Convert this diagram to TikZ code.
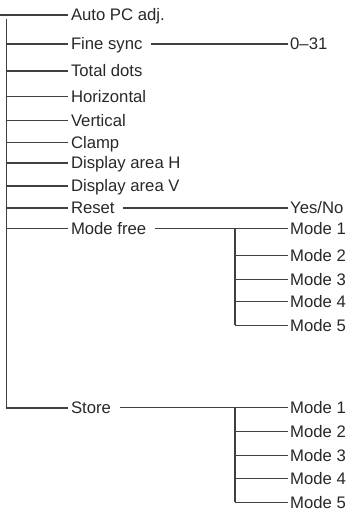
\documentclass[tikz,border=0pt]{standalone}
\usepackage{fontspec}
\setmainfont{Liberation Sans}
\definecolor{textcol}{RGB}{40,40,40}
\definecolor{linecol}{RGB}{64,64,64}
\begin{document}
\begin{tikzpicture}[x=1pt,y=-1pt,
  lbl/.style={anchor=west, inner xsep=2.5pt, inner ysep=0pt, text height=11.9pt, text depth=0pt,
              font=\fontsize{16.7}{18}\selectfont, text=textcol},
  br/.style={draw=linecol, line width=1.1pt},
  trunk/.style={draw=linecol, line width=1.6pt}]
\useasboundingbox (0,0) rectangle (351,511);
% main labels
\node[lbl] (auto)  at (68.3,15)    {Auto PC adj.};
\node[lbl] (fine)  at (68.3,44)    {Fine sync};
\node[lbl] (total) at (68.3,71)    {Total dots};
\node[lbl] (horiz) at (68.3,96.3)  {Horizontal};
\node[lbl] (vert)  at (68.3,120.7) {Vertical};
\node[lbl] (clamp) at (68.3,142.7) {Clamp};
\node[lbl] (dah)   at (68.3,163)   {Display area H};
\node[lbl] (dav)   at (68.3,186)   {Display area V};
\node[lbl] (reset) at (68.3,208)   {Reset};
\node[lbl] (mfree) at (68.3,228.8) {Mode free};
\node[lbl] (store) at (68.3,407.7) {Store};
% right labels
\node[lbl] (r031)  at (287.5,44)    {0\textendash31};
\node[lbl] (yesno) at (287.5,208)   {Yes/No};
\node[lbl] (m1) at (287.5,228.8) {Mode 1};
\node[lbl] (m2) at (287.5,255.3) {Mode 2};
\node[lbl] (m3) at (287.5,279.5) {Mode 3};
\node[lbl] (m4) at (287.5,301.7) {Mode 4};
\node[lbl] (m5) at (287.5,325.3) {Mode 5};
\node[lbl] (s1) at (287.5,407.7) {Mode 1};
\node[lbl] (s2) at (287.5,431.5) {Mode 2};
\node[lbl] (s3) at (287.5,455.2) {Mode 3};
\node[lbl] (s4) at (287.5,478.6) {Mode 4};
\node[lbl] (s5) at (287.5,502.4) {Mode 5};
% coordinates
\coordinate (topend) at (0,15);
\coordinate (trunktop) at (6.5,19);
\coordinate (mfx) at (235,0);
% main trunk
\draw[br] (topend) -- (auto.west);
\draw[trunk] (trunktop) |- (store.west);
\foreach \n in {fine,total,horiz,vert,clamp,dah,dav,reset,mfree}
  \draw[br] (trunktop |- \n.west) -- (\n.west);
% second level
\draw[br] ([xshift=6pt]fine.east) -- (r031.west);
\draw[br] ([xshift=6pt]reset.east) -- (yesno.west);
\draw[br] ([xshift=6pt]mfree.east) -- (m1.west);
\draw[br] ([xshift=6pt]store.east) -- (s1.west);
% Mode free sub tree
\draw[trunk] (mfx |- m1.west) -- (mfx |- m5.west);
\draw[br] (mfx |- m5.west) -- (m5.west);
\foreach \n in {m2,m3,m4}
  \draw[br] (mfx |- \n.west) -- (\n.west);
% Store sub tree
\draw[trunk] (mfx |- s1.west) -- (mfx |- s5.west);
\draw[br] (mfx |- s5.west) -- (s5.west);
\foreach \n in {s2,s3,s4}
  \draw[br] (mfx |- \n.west) -- (\n.west);
\end{tikzpicture}
\end{document}
